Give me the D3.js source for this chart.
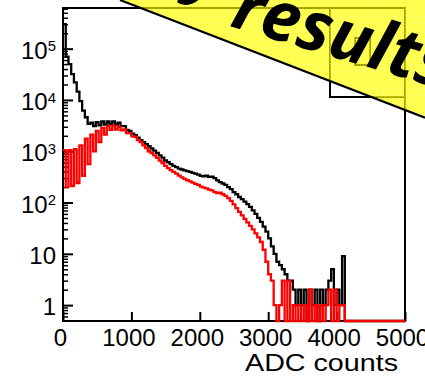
<!DOCTYPE html>
<html><head><meta charset="utf-8">
<script src="https://cdn.jsdelivr.net/npm/d3@7"></script>
<style>body{margin:0;background:#fff}svg{display:block}</style>
</head><body>
<script>
// ---- data (bins of 40 ADC counts, 0..5000) ----
const binWidth = 40;
const nBins = 125;
const blackCounts = [
 3.0e5,7.0e4,5.0e4,3.2e4,2.2e4,1.45e4,9.5e3,6.2e3,4.6e3,3.4e3,
 3.6e3,3.1e3,3.7e3,3.2e3,3.8e3,3.3e3,3.8e3,3.4e3,3.8e3,3.3e3,
 3.6e3,3.1e3,3.1e3,2.6e3,2.5e3,2.2e3,2.05e3,1.85e3,1.65e3,1.5e3,
 1.38e3,1.25e3,1.13e3,1.03e3,930,830,750,660,610,560,
 520,490,460,440,425,410,395,380,365,350,
 330,325,335,315,320,300,270,250,235,220,
 200,182,160,145,128,116,104,93,82,70,
 60,50,42,34,27,20,14,10,7,6,
 5,4,3,3,2,1,2,1,2,0,
 2,1,2,0,2,1,2,3,5,1,
 2,1,9,0,0,0,0,0,0,0,
 0,0,0,0,0,0,0,0,0,0,
 0,0,0,0,0
];
const redCounts = [
 1050,200,1050,210,1100,240,1300,330,1750,560,
 2100,1000,2500,1500,2850,2100,3100,2600,3150,2650,
 3000,2550,2650,2250,2250,1950,1900,1650,1500,1300,
 1150,1000,920,830,740,660,590,520,470,430,
 395,365,335,310,290,272,258,245,232,220,
 205,195,188,178,172,160,152,155,145,135,
 122,108,92,78,66,56,48,41,35,30,
 25,21,17,12,7,4,3,1,0,1,
 3,0,3,0,1,0,1,0,1,0,
 2,0,1,0,1,0,1,2,0,2,
 0,1,1,0,0,0,0,0,0,0,
 0,0,0,0,0,0,0,0,0,0,
 0,0,0,0,0
];
const xTicks = [0,1000,2000,3000,4000,5000];
const yDecades = [1,10,100,1000,10000,100000];
const xTitle = "ADC counts";
const bannerWords = ["Preliminary","results"];

// ---- layout ----
const W = 425, H = 378;
const L = 63, R = 405, T = 8, B = 321;
const yMin = 0.49, yMax = 6.2e5;

const svg = d3.select("body").append("svg").attr("width", W).attr("height", H);
const x = d3.scaleLinear().domain([0, 5000]).range([L, R]);
const y = d3.scaleLog().domain([yMin, yMax]).range([B, T]);
const yv = v => y(Math.max(v, yMin));

const font = "'Liberation Sans', Arial, Helvetica, sans-serif";

function stepData(arr){
  const pts = arr.map((v,i)=>({e:i*binWidth, v}));
  pts.push({e:nBins*binWidth, v:arr[arr.length-1]});
  return pts;
}
const line = d3.line().x(d=>x(d.e)).y(d=>yv(d.v)).curve(d3.curveStepAfter);

// x axis
const gx = svg.append("g").attr("transform",`translate(0,${B})`)
  .call(d3.axisBottom(x).tickValues(xTicks).tickSizeInner(-9).tickSizeOuter(0).tickPadding(8).tickFormat(d3.format("d")));
gx.select(".domain").remove();
gx.selectAll(".tick line").attr("stroke","#000").attr("stroke-width",2);
gx.selectAll(".tick text").attr("font-family",font).attr("font-size",24).attr("fill","#000").attr("dx",-3);

// y axis minor ticks
const minor = [];
for (let k=-1;k<=5;k++) for (let m=2;m<=9;m++){ const v=m*Math.pow(10,k); if(v>=yMin && v<=yMax) minor.push(v); }
const gym = svg.append("g").attr("transform",`translate(${L},0)`)
  .call(d3.axisLeft(y).tickValues(minor).tickSizeInner(-5).tickSizeOuter(0).tickFormat(""));
gym.select(".domain").remove();
gym.selectAll(".tick line").attr("stroke","#000").attr("stroke-width",1.5);

const gy = svg.append("g").attr("transform",`translate(${L},0)`)
  .call(d3.axisLeft(y).tickValues(yDecades).tickSizeInner(-10).tickSizeOuter(0).tickPadding(7).tickFormat(d=>String(d)));
gy.select(".domain").remove();
gy.selectAll(".tick line").attr("stroke","#000").attr("stroke-width",2);
gy.selectAll(".tick text").attr("font-family",font).attr("font-size",24).attr("fill","#000").attr("dy","0.4em")
  .each(function(d){
    const e = Math.round(Math.log10(d));
    if (e >= 2){
      const t = d3.select(this);
      t.text("10");
      t.append("tspan").attr("dy","-0.5em").attr("font-size","0.62em").text(e);
    }
  });

// frame
svg.append("rect").attr("x",L).attr("y",T).attr("width",R-L).attr("height",B-T)
  .attr("fill","none").attr("stroke","#000").attr("stroke-width",2);

// histograms
svg.append("path").datum(stepData(blackCounts)).attr("d",line)
  .attr("fill","none").attr("stroke","#000").attr("stroke-width",2.3);
svg.append("path").datum(stepData(redCounts)).attr("d",line)
  .attr("fill","none").attr("stroke","#ff0000").attr("stroke-width",2.3);

// legend-like boxes (under banner)
svg.append("rect").attr("x",330).attr("y",T).attr("width",R-330).attr("height",89)
  .attr("fill","none").attr("stroke","#000").attr("stroke-width",2);
svg.append("rect").attr("x",355).attr("y",38).attr("width",15).attr("height",27)
  .attr("fill","none").attr("stroke","#000").attr("stroke-width",2);

// axis title
svg.append("text").attr("x",245).attr("y",371).attr("font-family",font).attr("font-size",23)
  .attr("textLength",153).attr("lengthAdjust","spacingAndGlyphs").attr("fill","#000").text(xTitle);

// banner
const slope = 0.386, x0 = 120;
const defs = svg.append("defs");
const pat = defs.append("pattern").attr("id","chk").attr("width",3).attr("height",3).attr("patternUnits","userSpaceOnUse");
pat.append("rect").attr("width",3).attr("height",3).attr("fill","#ffff00").attr("fill-opacity",0.6);
pat.append("rect").attr("width",1).attr("height",3).attr("fill","#ffff00").attr("fill-opacity",0.3);
pat.append("rect").attr("width",3).attr("height",1).attr("fill","#ffff00").attr("fill-opacity",0.3);
svg.append("path").attr("d",`M${x0},0L${W},0L${W},${(W-x0)*slope}Z`).attr("fill","url(#chk)");
svg.append("line").attr("x1",x0).attr("y1",0).attr("x2",W).attr("y2",(W-x0)*slope)
  .attr("stroke","#000").attr("stroke-width",2.2);
const ang = 16.5;
const bfont = "'Open Sans', 'DejaVu Sans', sans-serif";
const gb = svg.append("g").attr("transform",`translate(229,26) rotate(${ang})`);
gb.append("text").attr("x",0).attr("y",0).attr("font-family",bfont)
  .attr("font-weight",700).attr("font-style","italic").attr("font-size",69).attr("fill","#000").text(bannerWords[1]);
gb.append("text").attr("x",-16).attr("y",-24).attr("text-anchor","end").attr("font-family",bfont)
  .attr("font-weight",700).attr("font-style","italic").attr("font-size",69).attr("fill","#000").text(bannerWords[0]);
</script>
</body></html>
